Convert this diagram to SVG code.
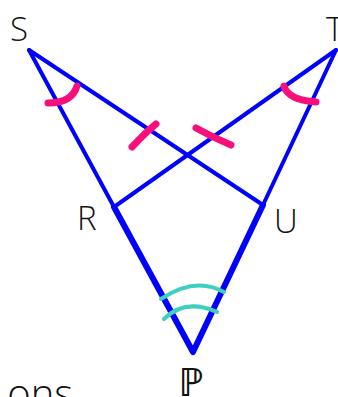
<svg xmlns="http://www.w3.org/2000/svg" width="338" height="397" viewBox="0 0 338 397">
<style>
.lbl{font-family:"Open Sans","Noto Sans",sans-serif;font-weight:300;font-size:33px;fill:#111}
.thin{stroke:#0000ff;stroke-width:4;stroke-linecap:round;fill:none}
.thick{stroke:#0000ff;stroke-width:6;stroke-linecap:round;stroke-linejoin:round;fill:none}
.pink{stroke:#f7107c;stroke-width:7;stroke-linecap:round;fill:none}
.teal{stroke:#3fcfc0;stroke-width:4;stroke-linecap:round;fill:none}
</style>
<rect width="338" height="397" fill="#fff"/>
<g id="connectors">
<line class="thin" x1="29" y1="50" x2="114" y2="207"/>
<line class="thin" x1="336" y1="50" x2="263" y2="205"/>
<line class="thin" x1="29" y1="50" x2="263" y2="205"/>
<line class="thin" x1="336" y1="50" x2="114" y2="207"/>
<polyline class="thick" points="114,207 193,352 263,205"/>
</g>
<g id="marks">
<path class="pink" d="M48,103 Q72,103 77,86"/>
<path class="pink" d="M284,86 Q288,100 316,102"/>
<path class="pink" d="M132,147 Q146,132 156,124"/>
<path class="pink" d="M196,128 Q214,138 231,145"/>
<path class="teal" d="M161,299 Q195,276 224,292"/>
<path class="teal" d="M164,319 Q185,298 217,312"/>
</g>
<g id="S"><text class="lbl" x="10" y="41">S</text></g>
<g id="T"><text class="lbl" x="326" y="41">T</text></g>
<g id="R"><text class="lbl" x="77" y="230">R</text></g>
<g id="U"><text class="lbl" x="274" y="233">U</text></g>
<g id="P"><text class="lbl" x="191" y="396" text-anchor="middle" style="font-size:39px;font-weight:400">ℙ</text></g>
<g id="caption"><text class="lbl" x="73" y="408" text-anchor="end" style="font-size:40px">ons</text></g>
</svg>
